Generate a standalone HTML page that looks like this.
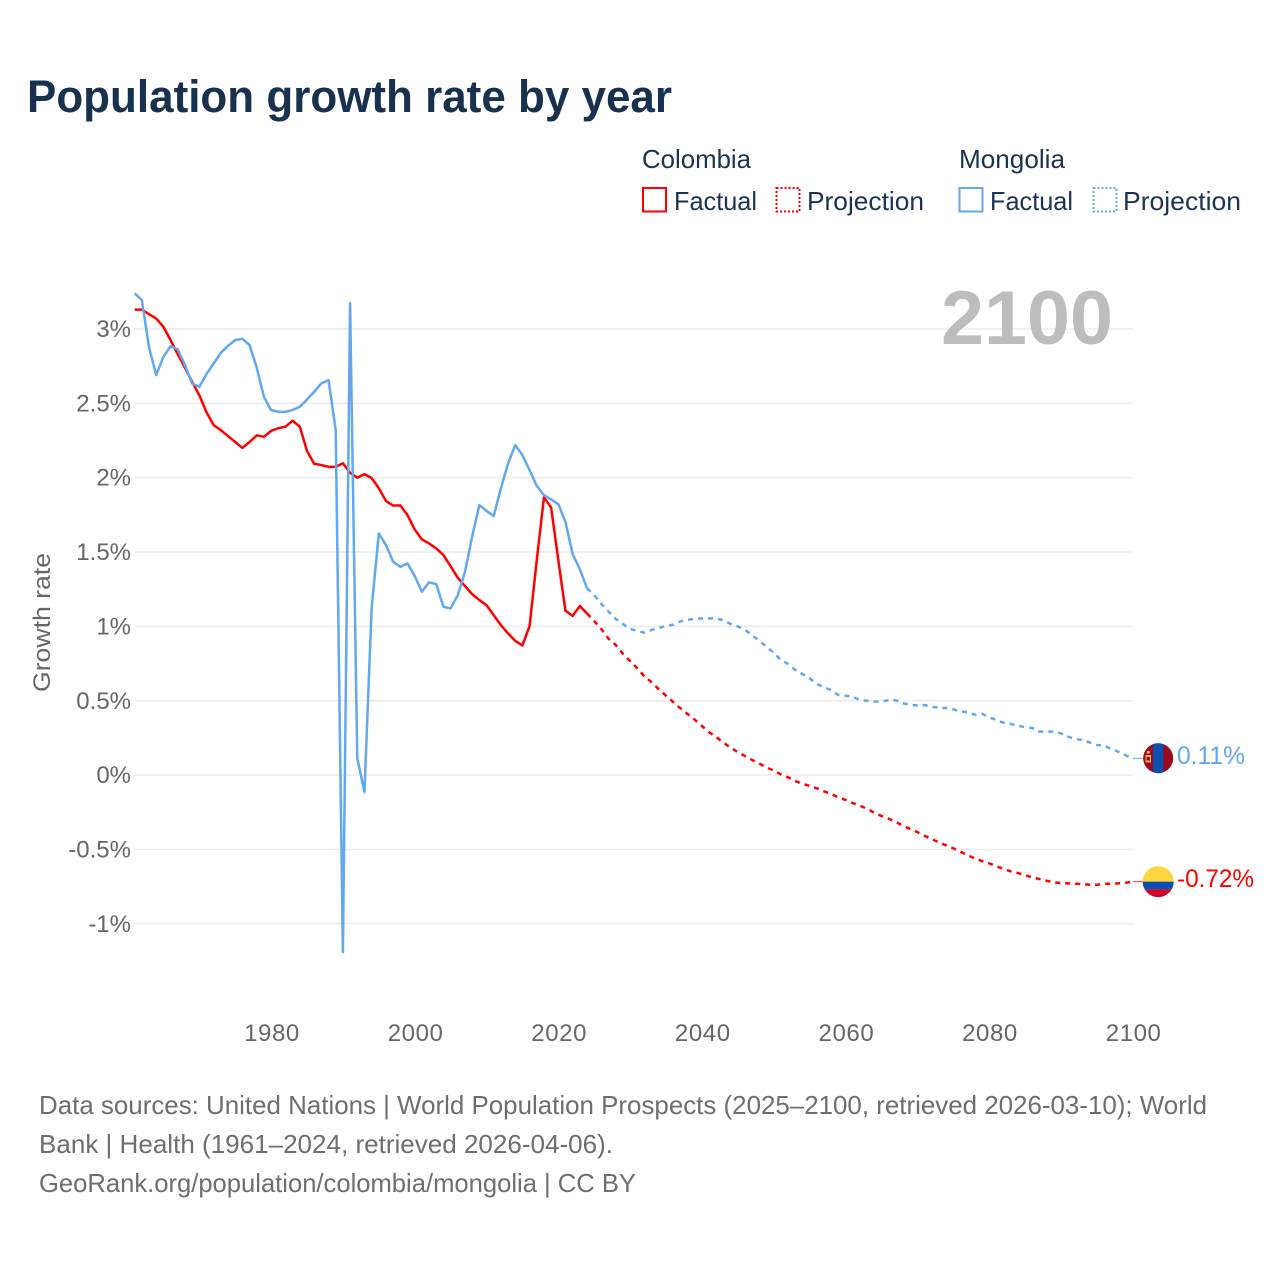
<!DOCTYPE html>
<html lang="en">
<head>
<meta charset="utf-8">
<title>Population growth rate by year</title>
<style>
html,body{margin:0;padding:0;background:#fff;width:1280px;height:1280px;overflow:hidden}
svg{display:block}
text{font-family:"Liberation Sans",sans-serif}
</style>
</head>
<body>
<svg id="chart" xmlns="http://www.w3.org/2000/svg" width="1280" height="1280" viewBox="0 0 1280 1280">
  <text x="27" y="112" font-size="45" font-weight="700" fill="#17314f" textLength="645" lengthAdjust="spacingAndGlyphs">Population growth rate by year</text>

  <g font-size="26" fill="#1b3352">
    <text x="642" y="168" textLength="109" lengthAdjust="spacingAndGlyphs">Colombia</text>
    <rect x="643" y="188" width="23" height="23.5" fill="none" stroke="#ff0000" stroke-width="2"/>
    <text x="674" y="210" textLength="83" lengthAdjust="spacingAndGlyphs">Factual</text>
    <rect x="776.5" y="188" width="23" height="23.5" fill="none" stroke="#ff0000" stroke-width="2" stroke-dasharray="2 2"/>
    <text x="807" y="210" textLength="117" lengthAdjust="spacingAndGlyphs">Projection</text>
    <text x="959" y="168" textLength="106" lengthAdjust="spacingAndGlyphs">Mongolia</text>
    <rect x="959.5" y="188" width="23" height="23.5" fill="none" stroke="#62a8ee" stroke-width="2"/>
    <text x="990" y="210" textLength="83" lengthAdjust="spacingAndGlyphs">Factual</text>
    <rect x="1093.5" y="188" width="23" height="23.5" fill="none" stroke="#62a8ee" stroke-width="2" stroke-dasharray="2 2"/>
    <text x="1123" y="210" textLength="118" lengthAdjust="spacingAndGlyphs">Projection</text>
  </g>

  <g id="grid"></g>
  <text x="941" y="344" font-size="76" font-weight="700" fill="#bdbdbd" textLength="172" lengthAdjust="spacingAndGlyphs">2100</text>
  <g id="y-ticks"></g>
  <g id="x-ticks"></g>
  <text transform="translate(50,692) rotate(-90)" font-size="24" fill="#666666" textLength="139" lengthAdjust="spacingAndGlyphs">Growth rate</text>

  <g id="series"></g>

  <g>
    <clipPath id="clip-mn"><circle cx="1158.2" cy="758.2" r="15"/></clipPath>
    <g clip-path="url(#clip-mn)">
      <rect x="1143" y="743" width="31" height="31" fill="#a0071f"/>
      <rect x="1153" y="743" width="10.3" height="31" fill="#0b50b0"/>
      <rect x="1145.5" y="755" width="5.5" height="7.5" fill="#e9b949"/>
      <rect x="1146.8" y="751" width="3" height="2.5" fill="#e9b949"/>
      <rect x="1146.5" y="757" width="3.5" height="3.5" fill="#a0071f"/>
    </g>
  </g>
  <g>
    <clipPath id="clip-co"><circle cx="1158.2" cy="881.7" r="15.5"/></clipPath>
    <g clip-path="url(#clip-co)">
      <rect x="1142" y="866" width="32" height="16" fill="#ffd53f"/>
      <rect x="1142" y="881.7" width="32" height="7.7" fill="#0a4fb0"/>
      <rect x="1142" y="889.4" width="32" height="9" fill="#d80027"/>
    </g>
  </g>
  <text x="1177" y="764" font-size="25" fill="#62a8ee" textLength="68" lengthAdjust="spacingAndGlyphs">0.11%</text>
  <text x="1177" y="887" font-size="25" fill="#ff0000" textLength="77" lengthAdjust="spacingAndGlyphs">-0.72%</text>

  <g font-size="26" fill="#6e6e6e">
    <text x="39" y="1114" textLength="1168" lengthAdjust="spacingAndGlyphs">Data sources: United Nations | World Population Prospects (2025–2100, retrieved 2026-03-10); World</text>
    <text x="39" y="1153" textLength="574" lengthAdjust="spacingAndGlyphs">Bank | Health (1961–2024, retrieved 2026-04-06).</text>
    <text x="39" y="1192" textLength="597" lengthAdjust="spacingAndGlyphs">GeoRank.org/population/colombia/mongolia | CC BY</text>
  </g>
</svg>

<script>
const factualStartYear = 1961;
const projectionStartYear = 2024;

const colombiaFactual = [3.13,3.13,3.10,3.07,3.015,2.925,2.83,2.74,2.645,2.555,2.44,2.353,2.32,2.28,2.24,2.20,2.24,2.285,2.275,2.315,2.333,2.343,2.383,2.343,2.18,2.094,2.085,2.073,2.073,2.097,2.033,2.00,2.024,1.997,1.93,1.843,1.813,1.813,1.748,1.652,1.585,1.558,1.524,1.48,1.405,1.327,1.271,1.217,1.177,1.143,1.076,1.009,0.953,0.903,0.872,1.002,1.446,1.868,1.80,1.446,1.105,1.071,1.137,1.087];

const mongoliaFactual = [3.24,3.194,2.876,2.69,2.813,2.885,2.863,2.757,2.634,2.611,2.697,2.768,2.84,2.887,2.925,2.934,2.892,2.74,2.544,2.455,2.443,2.443,2.455,2.477,2.527,2.578,2.634,2.656,2.32,-1.19,3.174,0.114,-0.114,1.123,1.625,1.547,1.435,1.40,1.423,1.338,1.233,1.296,1.284,1.132,1.121,1.21,1.367,1.603,1.816,1.777,1.742,1.928,2.096,2.219,2.152,2.051,1.945,1.883,1.854,1.822,1.703,1.486,1.385,1.256];

const colombiaProjection = [1.087,1.036,0.982,0.917,0.875,0.816,0.767,0.718,0.664,0.624,0.577,0.534,0.492,0.449,0.411,0.373,0.33,0.288,0.256,0.218,0.184,0.155,0.128,0.102,0.077,0.052,0.03,0.005,-0.015,-0.04,-0.058,-0.073,-0.089,-0.109,-0.127,-0.149,-0.167,-0.188,-0.206,-0.226,-0.253,-0.275,-0.293,-0.315,-0.34,-0.362,-0.383,-0.408,-0.43,-0.452,-0.472,-0.492,-0.515,-0.539,-0.56,-0.578,-0.593,-0.613,-0.631,-0.647,-0.658,-0.674,-0.687,-0.699,-0.71,-0.721,-0.726,-0.728,-0.73,-0.734,-0.737,-0.737,-0.732,-0.73,-0.728,-0.724,-0.717];

const mongoliaProjection = [1.256,1.211,1.151,1.099,1.05,1.016,0.984,0.969,0.958,0.976,0.989,1.003,1.011,1.034,1.045,1.05,1.054,1.054,1.054,1.041,1.016,1.0,0.976,0.942,0.902,0.863,0.823,0.774,0.747,0.707,0.68,0.651,0.613,0.59,0.572,0.539,0.534,0.527,0.505,0.5,0.494,0.496,0.503,0.503,0.483,0.473,0.469,0.471,0.46,0.453,0.451,0.442,0.429,0.422,0.406,0.413,0.389,0.371,0.352,0.344,0.332,0.323,0.317,0.292,0.292,0.292,0.281,0.258,0.243,0.236,0.22,0.202,0.2,0.176,0.157,0.133,0.113];

const yTickValues = [3,2.5,2,1.5,1,0.5,0,-0.5,-1];
const yTickLabels = ["3%","2.5%","2%","1.5%","1%","0.5%","0%","-0.5%","-1%"];
const xTickYears = [1980,2000,2020,2040,2060,2080,2100];

const NS = "http://www.w3.org/2000/svg";
function xScale(year){ return 271.1 + (year - 1980) * 7.18; }
function yScale(v){ return 775.1 - v * 148.7; }

function make(tag, attrs, parent){
  const el = document.createElementNS(NS, tag);
  for (const k in attrs) el.setAttribute(k, attrs[k]);
  parent.appendChild(el);
  return el;
}

const gridG = document.getElementById("grid");
const yG = document.getElementById("y-ticks");
yTickValues.forEach(function(v, i){
  const ln = make("line", {x1:134, x2:1133, y1:yScale(v), y2:yScale(v), stroke:"#ececec", "stroke-width":1.5}, gridG);
  
  
  const t = make("text", {x:131, y:yScale(v)+8, "text-anchor":"end", "font-size":24, fill:"#666666"}, yG);
  
  
  t.textContent = yTickLabels[i];
});

const xG = document.getElementById("x-ticks");
xTickYears.forEach(function(y){
  const t = make("text", {x:xScale(y)+0.9, y:1041, "text-anchor":"middle", "font-size":24, "letter-spacing":0.6, fill:"#666666"}, xG);
  
  
  t.textContent = y;
});

function linePath(values, startYear){
  return values.map(function(v, i){
    return (i ? "L" : "M") + xScale(startYear + i).toFixed(2) + " " + yScale(v).toFixed(2);
  }).join("");
}

const seriesG = document.getElementById("series");

const coProj = make("path", {d:linePath(colombiaProjection, projectionStartYear), fill:"none", stroke:"#ff0000", "stroke-width":2.5, "stroke-dasharray":"5 5", "stroke-linejoin":"round"}, seriesG);



const mnProj = make("path", {d:linePath(mongoliaProjection, projectionStartYear), fill:"none", stroke:"#62a8ee", "stroke-width":2.5, "stroke-dasharray":"5 5", "stroke-linejoin":"round"}, seriesG);



const coLine = make("path", {d:linePath(colombiaFactual, factualStartYear), fill:"none", stroke:"#ff0000", "stroke-width":2.5, "stroke-linejoin":"round"}, seriesG);



const mnLine = make("path", {d:linePath(mongoliaFactual, factualStartYear), fill:"none", stroke:"#62a8ee", "stroke-width":2.5, "stroke-linejoin":"round"}, seriesG);



const coEnd = colombiaProjection[colombiaProjection.length - 1];
const mnEnd = mongoliaProjection[mongoliaProjection.length - 1];
const coConn = make("line", {x1:xScale(2100), x2:1144, y1:yScale(coEnd), y2:yScale(coEnd), stroke:"#ff0000", "stroke-width":1, opacity:0.8}, seriesG);


const mnConn = make("line", {x1:xScale(2100), x2:1144, y1:yScale(mnEnd), y2:yScale(mnEnd), stroke:"#62a8ee", "stroke-width":1}, seriesG);


</script>
</body>
</html>
